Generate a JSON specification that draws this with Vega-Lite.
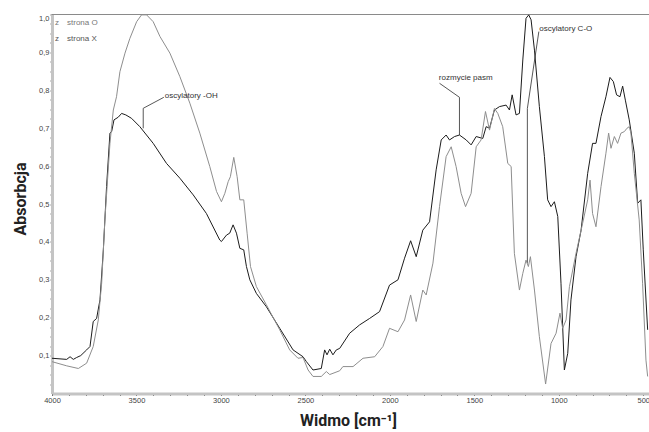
{
  "$schema": "https://vega.github.io/schema/vega-lite/v6.json",
  "width": 597,
  "height": 379,
  "autosize": {"type": "none"},
  "padding": {"left": 52, "top": 14.5, "right": 0, "bottom": 38.5},
  "background": "white",
  "config": {"view": {"stroke": null}},
  "datasets": {
    "spectra": [
      {"s":"strona X","w":4000,"a":0.093},{"s":"strona X","w":3913,"a":0.090},{"s":"strona X","w":3893,"a":0.097},{"s":"strona X","w":3874,"a":0.090},{"s":"strona X","w":3854,"a":0.095},{"s":"strona X","w":3830,"a":0.100},{"s":"strona X","w":3795,"a":0.115},{"s":"strona X","w":3775,"a":0.124},{"s":"strona X","w":3756,"a":0.190},{"s":"strona X","w":3736,"a":0.198},{"s":"strona X","w":3716,"a":0.247},{"s":"strona X","w":3696,"a":0.379},{"s":"strona X","w":3677,"a":0.546},{"s":"strona X","w":3657,"a":0.687},{"s":"strona X","w":3647,"a":0.691},{"s":"strona X","w":3633,"a":0.722},{"s":"strona X","w":3608,"a":0.729},{"s":"strona X","w":3588,"a":0.739},{"s":"strona X","w":3563,"a":0.735},{"s":"strona X","w":3529,"a":0.726},{"s":"strona X","w":3480,"a":0.704},{"s":"strona X","w":3401,"a":0.660},{"s":"strona X","w":3322,"a":0.607},{"s":"strona X","w":3243,"a":0.568},{"s":"strona X","w":3164,"a":0.524},{"s":"strona X","w":3086,"a":0.475},{"s":"strona X","w":3007,"a":0.405},{"s":"strona X","w":2997,"a":0.401},{"s":"strona X","w":2967,"a":0.418},{"s":"strona X","w":2948,"a":0.423},{"s":"strona X","w":2928,"a":0.445},{"s":"strona X","w":2908,"a":0.423},{"s":"strona X","w":2888,"a":0.383},{"s":"strona X","w":2865,"a":0.379},{"s":"strona X","w":2849,"a":0.335},{"s":"strona X","w":2829,"a":0.300},{"s":"strona X","w":2790,"a":0.264},{"s":"strona X","w":2731,"a":0.229},{"s":"strona X","w":2652,"a":0.172},{"s":"strona X","w":2573,"a":0.115},{"s":"strona X","w":2514,"a":0.097},{"s":"strona X","w":2494,"a":0.084},{"s":"strona X","w":2455,"a":0.062},{"s":"strona X","w":2406,"a":0.066},{"s":"strona X","w":2386,"a":0.115},{"s":"strona X","w":2372,"a":0.102},{"s":"strona X","w":2356,"a":0.117},{"s":"strona X","w":2337,"a":0.102},{"s":"strona X","w":2317,"a":0.115},{"s":"strona X","w":2297,"a":0.119},{"s":"strona X","w":2238,"a":0.159},{"s":"strona X","w":2179,"a":0.181},{"s":"strona X","w":2120,"a":0.198},{"s":"strona X","w":2061,"a":0.216},{"s":"strona X","w":2002,"a":0.286},{"s":"strona X","w":1952,"a":0.300},{"s":"strona X","w":1913,"a":0.357},{"s":"strona X","w":1877,"a":0.403},{"s":"strona X","w":1844,"a":0.361},{"s":"strona X","w":1805,"a":0.431},{"s":"strona X","w":1765,"a":0.453},{"s":"strona X","w":1726,"a":0.590},{"s":"strona X","w":1696,"a":0.669},{"s":"strona X","w":1667,"a":0.682},{"s":"strona X","w":1647,"a":0.669},{"s":"strona X","w":1617,"a":0.678},{"s":"strona X","w":1588,"a":0.682},{"s":"strona X","w":1548,"a":0.669},{"s":"strona X","w":1519,"a":0.656},{"s":"strona X","w":1489,"a":0.678},{"s":"strona X","w":1450,"a":0.673},{"s":"strona X","w":1430,"a":0.704},{"s":"strona X","w":1410,"a":0.700},{"s":"strona X","w":1381,"a":0.748},{"s":"strona X","w":1351,"a":0.757},{"s":"strona X","w":1312,"a":0.761},{"s":"strona X","w":1292,"a":0.748},{"s":"strona X","w":1276,"a":0.788},{"s":"strona X","w":1253,"a":0.735},{"s":"strona X","w":1233,"a":0.739},{"s":"strona X","w":1213,"a":0.880},{"s":"strona X","w":1194,"a":0.990},{"s":"strona X","w":1178,"a":0.999},{"s":"strona X","w":1164,"a":0.986},{"s":"strona X","w":1144,"a":0.906},{"s":"strona X","w":1115,"a":0.757},{"s":"strona X","w":1085,"a":0.625},{"s":"strona X","w":1066,"a":0.511},{"s":"strona X","w":1046,"a":0.493},{"s":"strona X","w":1026,"a":0.506},{"s":"strona X","w":1006,"a":0.467},{"s":"strona X","w":987,"a":0.291},{"s":"strona X","w":967,"a":0.062},{"s":"strona X","w":947,"a":0.106},{"s":"strona X","w":928,"a":0.247},{"s":"strona X","w":898,"a":0.361},{"s":"strona X","w":868,"a":0.431},{"s":"strona X","w":829,"a":0.581},{"s":"strona X","w":800,"a":0.660},{"s":"strona X","w":780,"a":0.660},{"s":"strona X","w":750,"a":0.731},{"s":"strona X","w":721,"a":0.783},{"s":"strona X","w":697,"a":0.834},{"s":"strona X","w":677,"a":0.823},{"s":"strona X","w":658,"a":0.788},{"s":"strona X","w":638,"a":0.783},{"s":"strona X","w":622,"a":0.811},{"s":"strona X","w":606,"a":0.774},{"s":"strona X","w":583,"a":0.722},{"s":"strona X","w":553,"a":0.634},{"s":"strona X","w":533,"a":0.502},{"s":"strona X","w":514,"a":0.511},{"s":"strona X","w":500,"a":0.379},{"s":"strona X","w":474,"a":0.168},
      {"s":"strona O","w":4000,"a":0.084},{"s":"strona O","w":3913,"a":0.073},{"s":"strona O","w":3844,"a":0.066},{"s":"strona O","w":3795,"a":0.080},{"s":"strona O","w":3756,"a":0.124},{"s":"strona O","w":3726,"a":0.194},{"s":"strona O","w":3706,"a":0.291},{"s":"strona O","w":3687,"a":0.458},{"s":"strona O","w":3657,"a":0.660},{"s":"strona O","w":3637,"a":0.748},{"s":"strona O","w":3618,"a":0.783},{"s":"strona O","w":3598,"a":0.849},{"s":"strona O","w":3568,"a":0.898},{"s":"strona O","w":3539,"a":0.937},{"s":"strona O","w":3499,"a":0.981},{"s":"strona O","w":3470,"a":0.999},{"s":"strona O","w":3440,"a":0.999},{"s":"strona O","w":3401,"a":0.981},{"s":"strona O","w":3361,"a":0.942},{"s":"strona O","w":3302,"a":0.898},{"s":"strona O","w":3243,"a":0.836},{"s":"strona O","w":3184,"a":0.766},{"s":"strona O","w":3125,"a":0.687},{"s":"strona O","w":3066,"a":0.599},{"s":"strona O","w":3026,"a":0.533},{"s":"strona O","w":2997,"a":0.506},{"s":"strona O","w":2977,"a":0.528},{"s":"strona O","w":2957,"a":0.559},{"s":"strona O","w":2944,"a":0.572},{"s":"strona O","w":2924,"a":0.623},{"s":"strona O","w":2904,"a":0.572},{"s":"strona O","w":2888,"a":0.511},{"s":"strona O","w":2865,"a":0.511},{"s":"strona O","w":2845,"a":0.423},{"s":"strona O","w":2825,"a":0.335},{"s":"strona O","w":2790,"a":0.282},{"s":"strona O","w":2731,"a":0.234},{"s":"strona O","w":2652,"a":0.168},{"s":"strona O","w":2593,"a":0.115},{"s":"strona O","w":2544,"a":0.093},{"s":"strona O","w":2514,"a":0.095},{"s":"strona O","w":2484,"a":0.062},{"s":"strona O","w":2455,"a":0.045},{"s":"strona O","w":2406,"a":0.045},{"s":"strona O","w":2376,"a":0.058},{"s":"strona O","w":2356,"a":0.050},{"s":"strona O","w":2297,"a":0.060},{"s":"strona O","w":2278,"a":0.071},{"s":"strona O","w":2218,"a":0.071},{"s":"strona O","w":2159,"a":0.093},{"s":"strona O","w":2090,"a":0.097},{"s":"strona O","w":2041,"a":0.124},{"s":"strona O","w":2002,"a":0.172},{"s":"strona O","w":1952,"a":0.163},{"s":"strona O","w":1913,"a":0.194},{"s":"strona O","w":1877,"a":0.260},{"s":"strona O","w":1844,"a":0.190},{"s":"strona O","w":1805,"a":0.273},{"s":"strona O","w":1785,"a":0.260},{"s":"strona O","w":1745,"a":0.344},{"s":"strona O","w":1706,"a":0.493},{"s":"strona O","w":1667,"a":0.625},{"s":"strona O","w":1637,"a":0.651},{"s":"strona O","w":1608,"a":0.599},{"s":"strona O","w":1578,"a":0.528},{"s":"strona O","w":1552,"a":0.493},{"s":"strona O","w":1519,"a":0.528},{"s":"strona O","w":1489,"a":0.651},{"s":"strona O","w":1460,"a":0.669},{"s":"strona O","w":1434,"a":0.744},{"s":"strona O","w":1410,"a":0.695},{"s":"strona O","w":1381,"a":0.752},{"s":"strona O","w":1361,"a":0.739},{"s":"strona O","w":1332,"a":0.704},{"s":"strona O","w":1302,"a":0.607},{"s":"strona O","w":1282,"a":0.599},{"s":"strona O","w":1263,"a":0.370},{"s":"strona O","w":1233,"a":0.273},{"s":"strona O","w":1213,"a":0.317},{"s":"strona O","w":1194,"a":0.352},{"s":"strona O","w":1180,"a":0.335},{"s":"strona O","w":1168,"a":0.361},{"s":"strona O","w":1144,"a":0.273},{"s":"strona O","w":1115,"a":0.150},{"s":"strona O","w":1078,"a":0.025},{"s":"strona O","w":1046,"a":0.132},{"s":"strona O","w":1016,"a":0.159},{"s":"strona O","w":993,"a":0.212},{"s":"strona O","w":977,"a":0.172},{"s":"strona O","w":957,"a":0.194},{"s":"strona O","w":937,"a":0.282},{"s":"strona O","w":898,"a":0.370},{"s":"strona O","w":859,"a":0.449},{"s":"strona O","w":829,"a":0.511},{"s":"strona O","w":815,"a":0.563},{"s":"strona O","w":800,"a":0.475},{"s":"strona O","w":780,"a":0.440},{"s":"strona O","w":750,"a":0.546},{"s":"strona O","w":721,"a":0.634},{"s":"strona O","w":705,"a":0.687},{"s":"strona O","w":691,"a":0.647},{"s":"strona O","w":671,"a":0.678},{"s":"strona O","w":652,"a":0.660},{"s":"strona O","w":632,"a":0.687},{"s":"strona O","w":612,"a":0.691},{"s":"strona O","w":596,"a":0.700},{"s":"strona O","w":583,"a":0.704},{"s":"strona O","w":573,"a":0.687},{"s":"strona O","w":553,"a":0.581},{"s":"strona O","w":524,"a":0.458},{"s":"strona O","w":504,"a":0.291},{"s":"strona O","w":484,"a":0.088},{"s":"strona O","w":474,"a":0.045}
    ],
    "frame": [
      {"w":4000,"a":1.0},{"w":466,"a":1.0}
    ],
    "leaders": [
      {"g":"oh","i":0,"w":3338,"a":0.7815},{"g":"oh","i":1,"w":3460,"a":0.7525},{"g":"oh","i":2,"w":3460,"a":0.6997},
      {"g":"roz","i":0,"w":1706,"a":0.8185},{"g":"roz","i":1,"w":1588,"a":0.7815},{"g":"roz","i":2,"w":1588,"a":0.682},
      {"g":"co","i":0,"w":1118,"a":0.955},{"g":"co","i":1,"w":1186,"a":0.752},{"g":"co","i":2,"w":1186,"a":0.3435}
    ],
    "labels": [
      {"t":"z","w":3982,"a":0.977,"c":"#777777"},
      {"t":"z","w":3982,"a":0.935,"c":"#555555"},
      {"t":"strona O","w":3911,"a":0.977,"c":"#777777"},
      {"t":"strona X","w":3911,"a":0.935,"c":"#555555"},
      {"t":"oscylatory -OH","w":3332,"a":0.7845,"c":"#333333"},
      {"t":"rozmycie pasm","w":1710,"a":0.8317,"c":"#333333"},
      {"t":"oscylatory C-O","w":1115,"a":0.961,"c":"#333333"}
    ]
  },
  "encoding": {
    "x": {
      "field": "w", "type": "quantitative",
      "scale": {"domain": [4000, 466], "nice": false, "zero": false},
      "axis": {
        "title": "Widmo [cm⁻¹]",
        "titleFont": "Roboto", "titleFontSize": 16, "titleFontWeight": "bold", "titleColor": "#222222",
        "titleX": 296, "titleY": 27, "titleBaseline": "middle", "titleAlign": "center",
        "values": [4000,3900,3800,3700,3600,3500,3400,3300,3200,3100,3000,2900,2800,2700,2600,2500,2400,2300,2200,2100,2000,1900,1800,1700,1600,1500,1400,1300,1200,1100,1000,900,800,700,600,500],
        "labelExpr": "datum.value % 500 == 0 ? format(datum.value, 'd') : ''",
        "labelOverlap": false, "labelFlush": false,
        "labelFont": "Liberation Sans", "labelFontSize": 7.5, "labelColor": "#444444", "labelPadding": 1,
        "tickSize": 2, "tickColor": "#555555", "tickWidth": 1,
        "domainColor": "#c4c4c4", "domainWidth": 3, "grid": false
      }
    },
    "y": {
      "field": "a", "type": "quantitative",
      "scale": {"domain": [0, 1], "nice": false, "zero": true},
      "axis": {
        "title": "Absorbcja",
        "titleFont": "Roboto", "titleFontSize": 16, "titleFontWeight": "bold", "titleColor": "#222222",
        "titleX": -32, "titleY": 184, "titleAngle": -90, "titleBaseline": "middle", "titleAlign": "center",
        "values": [0.025,0.05,0.075,0.1,0.125,0.15,0.175,0.2,0.225,0.25,0.275,0.3,0.325,0.35,0.375,0.4,0.425,0.45,0.475,0.5,0.525,0.55,0.575,0.6,0.625,0.65,0.675,0.7,0.725,0.75,0.775,0.8,0.825,0.85,0.875,0.9,0.925,0.95,0.975,1.0],
        "labelExpr": "datum.value > 0.05 && abs(datum.value * 10 - round(datum.value * 10)) < 0.001 ? replace(format(datum.value, '.1f'), '.', ',') : ''",
        "labelOverlap": false, "labelFlush": true,
        "labelFont": "Liberation Sans", "labelFontSize": 7.5, "labelColor": "#444444", "labelPadding": 1,
        "tickSize": 2, "tickColor": "#555555", "tickWidth": 1,
        "domainColor": "#c4c4c4", "domainWidth": 3, "grid": false
      }
    }
  },
  "layer": [
    {
      "data": {"name": "frame"},
      "mark": {"type": "line", "color": "#8a8a8a", "strokeWidth": 1},
      "encoding": {}
    },
    {
      "data": {"name": "leaders"},
      "mark": {"type": "line", "color": "#444444", "strokeWidth": 0.9},
      "encoding": {
        "detail": {"field": "g", "type": "nominal"},
        "order": {"field": "i", "type": "quantitative"}
      }
    },
    {
      "data": {"name": "spectra"},
      "mark": {"type": "line", "strokeWidth": 1},
      "encoding": {
        "color": {
          "field": "s", "type": "nominal",
          "scale": {"domain": ["strona O", "strona X"], "range": ["#8e8e8e", "#1c1c1c"]},
          "legend": null
        }
      }
    },
    {
      "data": {"name": "labels"},
      "mark": {"type": "text", "align": "left", "baseline": "middle", "font": "Liberation Sans", "fontSize": 8},
      "encoding": {
        "text": {"field": "t", "type": "nominal"},
        "color": {"field": "c", "type": "nominal", "scale": null}
      }
    }
  ]
}
